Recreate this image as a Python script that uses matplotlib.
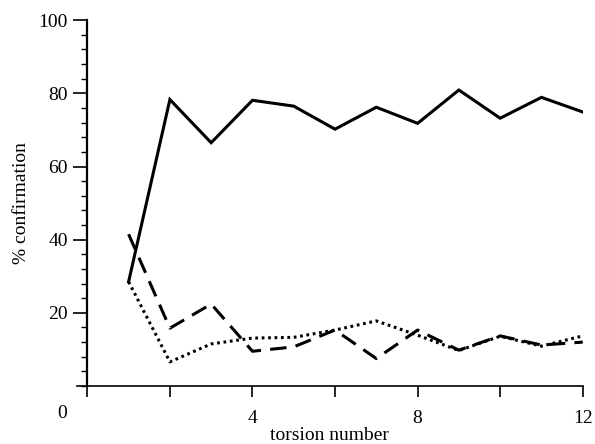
import numpy as np
import matplotlib.pyplot as plt
from matplotlib.ticker import MultipleLocator

plt.rcParams['font.family'] = ['Liberation Serif', 'DejaVu Serif']

torsion = [1, 2, 3, 4, 5, 6, 7, 8, 9, 10, 11, 12]
solid = [28.5, 78.3, 66.5, 78.1, 76.5, 70.2, 76.2, 71.8, 80.9, 73.2, 78.9, 74.9]
dashed = [41.5, 15.8, 22.4, 9.5, 10.7, 15.3, 7.5, 15.3, 9.8, 13.7, 11.2, 12.0]
dotted = [28.5, 6.6, 11.5, 13.1, 13.3, 15.3, 17.8, 13.9, 9.7, 13.6, 10.9, 13.7]

xticks = [0, 2, 4, 6, 8, 10, 12]
xticklabels = ['', '', '4', '', '8', '', '12']
yticks = [20, 40, 60, 80, 100]

fig = plt.figure(figsize=(5.95, 4.44), dpi=100)
ax = fig.add_axes([0.1294, 0.1306, 0.850, 0.824])

lw = 2.2
ax.plot(torsion, solid, color='black', lw=lw, solid_joinstyle='miter')
ax.plot(torsion, dashed, color='black', lw=lw, dashes=(5.4, 3.0))
ax.plot(torsion, dotted, color='black', lw=lw, dashes=(0.9, 1.2))

ax.set_xlim(-0.25, 12)
ax.set_ylim(0, 100)

for s in ['top', 'right']:
    ax.spines[s].set_visible(False)
ax.spines['left'].set_position(('data', 0))
ax.spines['left'].set_linewidth(1.6)
ax.spines['bottom'].set_linewidth(1.2)

ax.set_xticks(xticks)
ax.set_xticklabels(xticklabels)
ax.set_yticks(yticks)
ax.yaxis.set_minor_locator(MultipleLocator(4))
ax.tick_params(axis='x', direction='out', length=8, width=1.2, labelsize=14, pad=9)
ax.tick_params(axis='y', which='major', direction='out', length=10, width=1.2, labelsize=14, pad=4)
ax.tick_params(axis='y', which='minor', direction='out', length=4, width=1.0)

# corner origin label
ax.text(-0.6, -5.2, '0', ha='center', va='top', fontsize=14, clip_on=False)

ax.set_xlabel('torsion number', fontsize=14, labelpad=0)
ax.set_ylabel('% confirmation', fontsize=14, labelpad=6)

fig.savefig('out.png', dpi=100)
